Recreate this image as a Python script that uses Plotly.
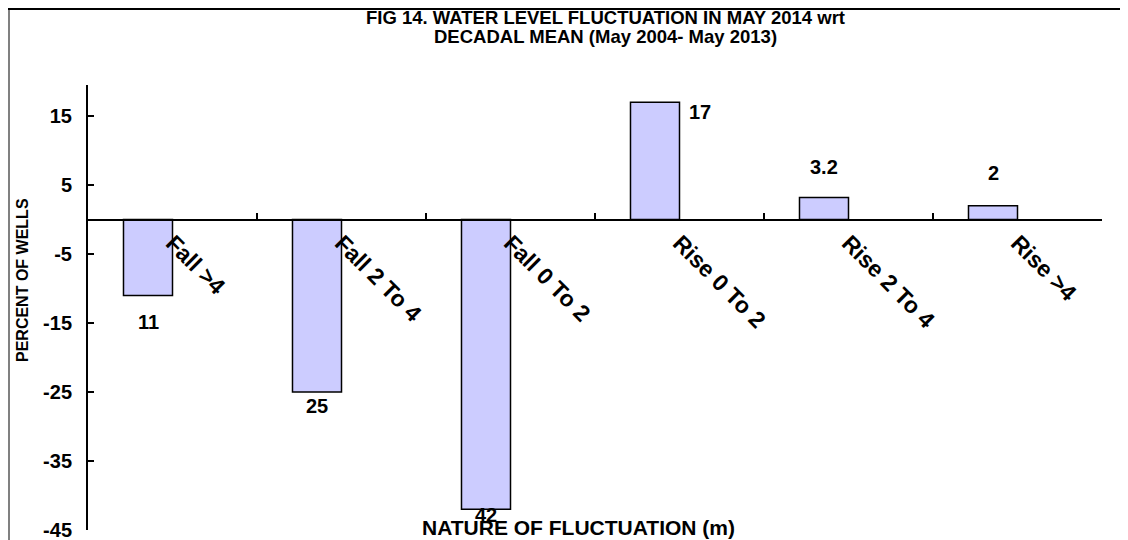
import plotly.graph_objects as go

categories = ["Fall >4", "Fall 2 To 4", "Fall 0 To 2", "Rise 0 To 2", "Rise 2 To 4", "Rise >4"]
percent_wells = [-11, -25, -42, 17, 3.2, 2]
y_ticks = [15, 5, -5, -15, -25, -35, -45]

title_lines = ["FIG 14. WATER LEVEL FLUCTUATION IN MAY 2014 wrt",
               "DECADAL MEAN (May 2004- May 2013)"]

# label offsets in pixels (xshift, yshift), as placed in the original
label_shift = [(0, -27), (0, -14), (0, -6), (45, -10), (0, 30), (0, 33)]

# page body adds an 8px margin, so the figure is drawn 8px smaller
W, H = 1120, 532
L, R, T, B = 80, 26, 77, 10
FONT = "Liberation Sans, Arial, sans-serif"
y_range = [-45, 19.5]


def px_x(p):
    return (p - L) / (W - L - R)


def px_y(p):
    return (H - B - p) / (H - T - B)


fig = go.Figure()

fig.add_trace(go.Bar(
    x=categories,
    y=percent_wells,
    width=0.29,
    offset=-0.29,
    marker=dict(color="#CCCCFF", line=dict(color="black", width=1.5)),
    showlegend=False,
    hoverinfo="x+y",
))

annotations = []
for i, v in enumerate(percent_wells):
    dx, dy = label_shift[i]
    annotations.append(dict(
        x=i - 0.145, y=v, xref="x", yref="y",
        text=f"{abs(v):g}", showarrow=False,
        xanchor="center", yanchor="middle",
        xshift=dx, yshift=dy,
        font=dict(family=FONT, size=20, color="black", weight="bold"),
    ))

for j, line in enumerate(title_lines):
    annotations.append(dict(
        x=px_x(597), y=px_y(9 + 20 * j), xref="paper", yref="paper",
        text=line, showarrow=False, xanchor="center", yanchor="middle",
        font=dict(family=FONT, size=18.5, color="black", weight="bold"),
    ))

annotations.append(dict(
    x=px_x(570), y=px_y(519), xref="paper", yref="paper",
    text="NATURE OF FLUCTUATION (m)", showarrow=False,
    xanchor="center", yanchor="middle",
    font=dict(family=FONT, size=21, color="black", weight="bold"),
))
annotations.append(dict(
    x=px_x(14), y=px_y(272), xref="paper", yref="paper",
    text="PERCENT OF WELLS", showarrow=False, textangle=-90,
    xanchor="center", yanchor="middle",
    font=dict(family=FONT, size=16, color="black", weight="bold"),
))

# outer chart border
shapes = [
    dict(type="line", xref="paper", yref="paper", x0=px_x(1), x1=px_x(1),
         y0=px_y(1), y1=px_y(540), line=dict(color="#808080", width=2)),
    dict(type="line", xref="paper", yref="paper", x0=px_x(0), x1=px_x(1118),
         y0=px_y(1), y1=px_y(1), line=dict(color="black", width=2)),
    dict(type="line", xref="paper", yref="paper", x0=px_x(1118), x1=px_x(1118),
         y0=px_y(1), y1=px_y(540), line=dict(color="black", width=2)),
]

fig.update_layout(
    width=W, height=H,
    margin=dict(l=L, r=R, t=T, b=B, autoexpand=False),
    paper_bgcolor="white",
    plot_bgcolor="white",
    font=dict(family=FONT, color="black", weight="bold"),
    xaxis=dict(
        type="category",
        anchor="free",
        position=(0 - y_range[0]) / (y_range[1] - y_range[0]),
        showline=True, linecolor="black", linewidth=2,
        ticks="inside", ticklen=6, tickwidth=2, tickcolor="black",
        tickson="boundaries",
        tickangle=45,
        tickfont=dict(family=FONT, size=23, color="black", weight="bold"),
        showgrid=False, zeroline=False,
        automargin=False,
    ),
    yaxis=dict(
        range=y_range,
        tickvals=y_ticks,
        ticktext=[str(t) for t in y_ticks],
        showline=True, linecolor="black", linewidth=2,
        ticks="inside", ticklen=6, tickwidth=2, tickcolor="black",
        tickfont=dict(family=FONT, size=20, color="black", weight="bold"),
        ticklabelstandoff=10,
        ticklabeloverflow="allow",
        showgrid=False, zeroline=False,
        automargin=False,
    ),
    annotations=annotations,
    shapes=shapes,
)

fig.write_html("out.html")
